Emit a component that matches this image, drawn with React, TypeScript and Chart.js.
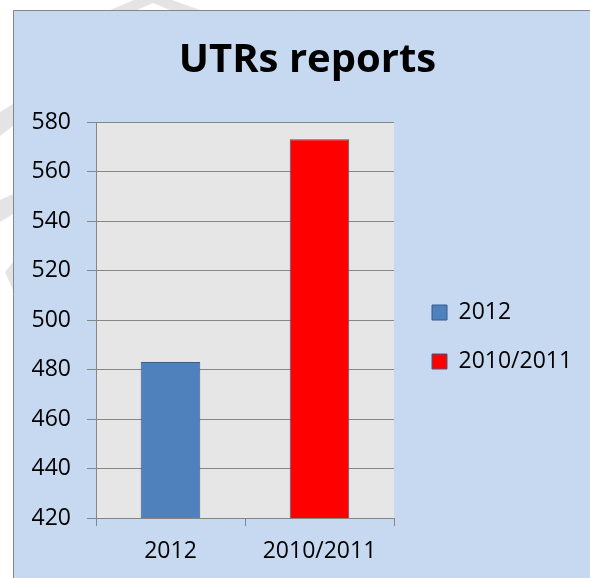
import React, { useEffect, useRef } from "react";
import { Chart, registerables } from "chart.js";

Chart.register(...registerables);

const categories = ["2012", "2010/2011"];
const values = [483, 573];
const fillColors = ["#4f81bd", "#ff0000"];
const borderColors = ["#385d8a", "#385d8a"];
const yTicks = [420, 440, 460, 480, 500, 520, 540, 560, 580];
const titleText = "UTRs reports";

const FONT = "'Open Sans', sans-serif";

const backgroundPlugin = {
  id: "bgPlugin",
  beforeDraw(chart: any) {
    const { ctx, width, height, chartArea } = chart;
    ctx.save();
    ctx.fillStyle = "#ffffff";
    ctx.fillRect(0, 0, width, height);
    ctx.fillStyle = "#e4e4e4";
    const poly = (pts: number[][]) => {
      ctx.beginPath();
      ctx.moveTo(pts[0][0], pts[0][1]);
      for (let i = 1; i < pts.length; i++) ctx.lineTo(pts[i][0], pts[i][1]);
      ctx.closePath();
      ctx.fill();
    };
    poly([[110, 10], [134, 0], [172, 0], [200, 10], [170, 10], [153, 3], [137, 10]]);
    poly([[0, 112], [13, 104], [13, 126], [0, 136]]);
    poly([[0, 200], [13, 194], [13, 214], [0, 222]]);
    poly([[5, 272], [13, 262], [13, 290]]);
    ctx.fillStyle = "#c6d9f1";
    ctx.fillRect(13, 10, width - 13, height - 10);
    ctx.strokeStyle = "#868686";
    ctx.lineWidth = 1;
    ctx.beginPath();
    ctx.moveTo(13.5, height);
    ctx.lineTo(13.5, 10.5);
    ctx.lineTo(width, 10.5);
    ctx.stroke();
    ctx.fillStyle = "#e6e6e6";
    ctx.fillRect(chartArea.left, chartArea.top, chartArea.right - chartArea.left, chartArea.bottom - chartArea.top);
    ctx.restore();
  },
};

const placementPlugin = {
  id: "placementPlugin",
  afterLayout(chart: any) {
    const t = chart.titleBlock;
    if (t) {
      t.left = 13;
      t.right = 602;
      t.width = t.right - t.left;
    }
    const lg = chart.legend;
    if (lg) {
      const w = lg.width;
      const h = lg.height;
      lg.left = 406;
      lg.top = 275;
      lg.right = lg.left + w;
      lg.bottom = lg.top + h;
    }
  },
};

export default function App() {
  const ref = useRef<HTMLCanvasElement | null>(null);
  useEffect(() => {
    if (!ref.current) return;
    const datasets = categories.map((c, i) => ({
      label: c,
      data: categories.map((_, j) => (j === i ? values[i] : null)),
      backgroundColor: fillColors[i],
      borderColor: borderColors[i],
      borderWidth: 1,
      grouped: false,
      barPercentage: 0.4,
      categoryPercentage: 1.0,
    }));
    const chart = new Chart(ref.current, {
      type: "bar",
      data: { labels: categories, datasets },
      options: {
        animation: false,
        responsive: false,
        maintainAspectRatio: false,
        layout: { padding: { left: 13, top: 10, right: 196, bottom: 0 } },
        plugins: {
          title: {
            display: true,
            text: titleText,
            color: "#000000",
            font: { family: FONT, size: 40, weight: "bold", lineHeight: 1.2 },
            padding: { top: 27, bottom: 37 },
          },
          legend: {
            display: true,
            position: "chartArea",
            align: "start",
            labels: {
              color: "#000000",
              font: { family: FONT, size: 23 },
              boxWidth: 15,
              boxHeight: 15,
              padding: 26,
            },
          },
          tooltip: { enabled: false },
        },
        scales: {
          x: {
            offset: true,
            grid: {
              display: true,
              offset: true,
              drawOnChartArea: false,
              drawTicks: true,
              tickLength: 8,
              color: "#868686",
            },
            border: { display: true, color: "#868686", width: 1 },
            ticks: {
              color: "#000000",
              font: { family: FONT, size: 23 },
              padding: 12,
              maxRotation: 0,
            },
            afterFit(scale: any) {
              scale.height = 60;
            },
          },
          y: {
            min: yTicks[0],
            max: yTicks[yTicks.length - 1],
            grid: {
              color: "#868686",
              drawTicks: true,
              tickLength: 9,
            },
            border: { display: true, color: "#868686", width: 1 },
            afterBuildTicks(scale: any) {
              scale.ticks = yTicks.map((v) => ({ value: v }));
            },
            ticks: {
              color: "#000000",
              font: { family: FONT, size: 23 },
              padding: 16,
            },
            afterFit(scale: any) {
              scale.width = 83;
            },
          },
        },
      },
      plugins: [backgroundPlugin, placementPlugin],
    } as any);
    return () => chart.destroy();
  }, []);
  return (
    <div style={{ position: "fixed", left: 0, top: 0, width: 590, height: 578 }}>
      <canvas ref={ref} width={590} height={578} style={{ display: "block", width: 590, height: 578 }} />
    </div>
  );
}
